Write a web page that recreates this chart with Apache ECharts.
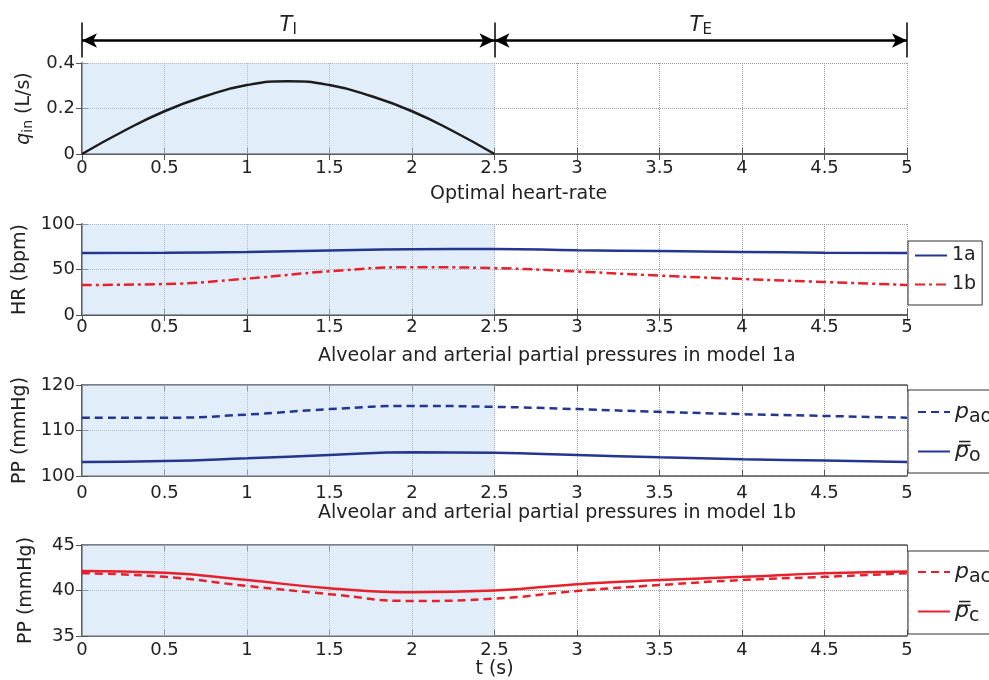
<!DOCTYPE html>
<html>
<head>
<meta charset="utf-8">
<script src="https://cdn.jsdelivr.net/npm/echarts@6/dist/echarts.min.js"></script>
<style>
  html, body { margin: 0; padding: 0; background: #fff; }
  #main { width: 989px; height: 680px; }
</style>
</head>
<body>
<div id="main"></div>
<script>
// time axis
var tIn = [0, 0.25, 0.5, 0.75, 1, 1.25, 1.5, 1.75, 2, 2.25, 2.5];
var tAll = [0, 0.5, 1, 1.5, 2, 2.5, 3, 3.5, 4, 4.5, 5];
// inflow q_in (L/s)
var qIn = [0, 0.1, 0.188, 0.255, 0.303, 0.32, 0.303, 0.255, 0.188, 0.1, 0];
// heart rate (bpm)
var hr1a = [68, 68.5, 69.3, 71, 72.2, 72.5, 71.2, 70.2, 69.3, 68.5, 68];
var hr1b = [33, 34, 40, 48, 52.5, 51.5, 47.8, 43.3, 39.6, 36.3, 33];
// partial pressures O2 model 1a (mmHg)
var pao = [112.8, 112.8, 113.5, 114.7, 115.4, 115.2, 114.7, 114.1, 113.6, 113.2, 112.8];
var po = [103.1, 103.3, 103.9, 104.6, 105.2, 105.1, 104.6, 104.1, 103.7, 103.4, 103.1];
// partial pressures CO2 model 1b (mmHg)
var pac = [41.9, 41.5, 40.5, 39.6, 38.85, 39.1, 39.95, 40.6, 41.15, 41.5, 41.9];
var pc = [42.15, 41.95, 41.15, 40.25, 39.8, 40.0, 40.7, 41.15, 41.5, 41.9, 42.1];
// y ticks [min, max, step]
var yRanges = [[0, 0.4, 0.2], [0, 100, 50], [100, 120, 10], [35, 45, 5]];

function pairs(xs, ys) { return xs.map(function (x, i) { return [x, ys[i]]; }); }

var FONT = 'DejaVu Sans';
var TXT = '#222';
var gridTops = [63, 224, 385, 545];
var labelMargins = [5, 3, 8, 5];
var yNames = ['{i|q}{s|in} (L/s)', 'HR (bpm)', 'PP (mmHg)', 'PP (mmHg)'];

var axisLine = { show: true, lineStyle: { color: '#555', width: 1.5 } };
var tick = { show: true, inside: true, length: 6, lineStyle: { color: '#555' } };
var split = { show: true, lineStyle: { type: 'dotted', color: '#999', width: 1 } };
var subRich = {
  i: { fontStyle: 'italic', fontSize: 19, fontFamily: FONT, color: TXT },
  s: { fontSize: 14, fontFamily: FONT, color: TXT, padding: [8, 0, 0, 0] }
};
var arrowRich = {
  i: { fontStyle: 'italic', fontSize: 21, fontFamily: FONT, color: TXT },
  s: { fontSize: 15, fontFamily: FONT, color: TXT, padding: [9, 0, 0, 0] }
};

var grids = [], xAxes = [], yAxes = [];
gridTops.forEach(function (top, i) {
  grids.push({ left: 82, width: 825, top: top, height: 91 });
  xAxes.push({
    gridIndex: i, type: 'value', min: 0, max: 5, interval: 0.5,
    axisLine: axisLine, axisTick: tick, splitLine: split,
    axisLabel: { color: TXT, fontSize: 18, fontFamily: FONT, margin: labelMargins[i] },
    name: i === 3 ? 't (s)' : '', nameLocation: 'middle', nameGap: 23,
    nameTextStyle: { color: TXT, fontSize: 19, fontFamily: FONT }
  });
  xAxes.push({
    gridIndex: i, type: 'value', min: 0, max: 5, interval: 0.5, position: 'top',
    axisLine: axisLine, axisTick: tick, splitLine: { show: false }, axisLabel: { show: false }
  });
  var r = yRanges[i];
  yAxes.push({
    gridIndex: i, type: 'value', min: r[0], max: r[1], interval: r[2],
    axisLine: axisLine, axisTick: tick, splitLine: split,
    axisLabel: { color: TXT, fontSize: 18, fontFamily: FONT, margin: 7 },
    name: yNames[i], nameLocation: 'middle', nameGap: 46, nameRotate: 90,
    nameTextStyle: { color: TXT, fontSize: 19, fontFamily: FONT, rich: subRich }
  });
  yAxes.push({
    gridIndex: i, type: 'value', min: r[0], max: r[1], interval: r[2], position: 'right',
    axisLine: axisLine, axisTick: tick, splitLine: { show: false }, axisLabel: { show: false }
  });
});
// strip for the T_I / T_E arrows
grids.push({ left: 82, width: 825, top: 18, height: 45 });
xAxes.push({ gridIndex: 4, type: 'value', min: 0, max: 5, show: false });
yAxes.push({ gridIndex: 4, type: 'value', min: 0, max: 1, show: false });

var shade = {
  silent: true,
  itemStyle: { color: 'rgba(196,220,242,0.5)' },
  data: [[{ xAxis: 0 }, { xAxis: 2.5 }]]
};

function line(name, gi, data, color, type, withShade) {
  var s = {
    name: name, type: 'line', xAxisIndex: 2 * gi, yAxisIndex: 2 * gi,
    data: data, smooth: true, symbol: 'none',
    lineStyle: { color: color, width: 2.5, type: type },
    itemStyle: { color: color }
  };
  if (withShade) s.markArea = shade;
  return s;
}

var NAVY = '#24368f';
var RED = '#e6212b';
var legendNames = {
  '1a': '1a', '1b': '1b',
  pao: '{i|p}{s|ao}', po: '{i|p\u033F}{s|o}',
  pac: '{i|p}{s|ac}', pc: '{i|p\u033F}{s|c}'
};
var legendRich = {
  i: { fontStyle: 'italic', fontSize: 22, fontFamily: FONT, color: TXT },
  s: { fontSize: 19, fontFamily: FONT, color: TXT, padding: [10, 0, 0, 0] }
};
function legend(names, top, gap, pad) {
  return {
    data: names, orient: 'vertical', left: 908, top: top,
    borderColor: '#333', borderWidth: 1, padding: pad,
    itemWidth: 32, itemHeight: 14, itemGap: gap,
    itemStyle: { opacity: 0 },
    textStyle: { color: TXT, fontSize: 19, fontFamily: FONT, rich: legendRich },
    formatter: function (n) { return legendNames[n]; }
  };
}

var option = {
  animation: false,
  backgroundColor: '#fff',
  title: [
    { text: 'Optimal heart-rate', left: 430, top: 185 },
    { text: 'Alveolar and arterial partial pressures in model 1a', left: 318, top: 347 },
    { text: 'Alveolar and arterial partial pressures in model 1b', left: 318, top: 504 }
  ].map(function (t) {
    t.padding = 0;
    t.textStyle = { color: TXT, fontSize: 19, fontWeight: 'normal', fontFamily: FONT };
    return t;
  }),
  legend: [
    legend(['1a', '1b'], 241, 10, [5, 6, 11, 6]),
    legend(['pao', 'po'], 390, 14, [11, 30, 7, 9]),
    legend(['pac', 'pc'], 551, 14, [10, 30, 8, 9])
  ],
  grid: grids,
  xAxis: xAxes,
  yAxis: yAxes,
  series: [
    line('qin', 0, pairs(tIn, qIn), '#1c1c1c', 'solid', true),
    line('1a', 1, pairs(tAll, hr1a), NAVY, 'solid', true),
    line('1b', 1, pairs(tAll, hr1b), RED, [10, 4, 3, 4], false),
    line('pao', 2, pairs(tAll, pao), NAVY, [8, 5], true),
    line('po', 2, pairs(tAll, po), NAVY, 'solid', false),
    line('pac', 3, pairs(tAll, pac), RED, [8, 5], true),
    line('pc', 3, pairs(tAll, pc), RED, 'solid', false),
    {
      type: 'line', xAxisIndex: 8, yAxisIndex: 8, data: [], silent: true,
      markLine: {
        silent: true,
        lineStyle: { color: '#000', width: 2.5, type: 'solid' },
        symbol: ['arrow', 'arrow'], symbolSize: [11, 15],
        label: {
          show: true, position: 'middle', distance: 3,
          color: TXT, fontSize: 19, fontFamily: FONT, rich: arrowRich
        },
        data: [
          [{ coord: [0, 0.5], label: { formatter: '{i|T}{s|I}' } }, { coord: [2.5, 0.5] }],
          [{ coord: [2.5, 0.5], label: { formatter: '{i|T}{s|E}' } }, { coord: [5, 0.5] }],
          [{ coord: [0, 0.12], symbol: 'none', label: { show: false }, lineStyle: { width: 1.5 } }, { coord: [0, 0.9], symbol: 'none' }],
          [{ coord: [2.5, 0.12], symbol: 'none', label: { show: false }, lineStyle: { width: 1.5 } }, { coord: [2.5, 0.9], symbol: 'none' }],
          [{ coord: [5, 0.12], symbol: 'none', label: { show: false }, lineStyle: { width: 1.5 } }, { coord: [5, 0.9], symbol: 'none' }]
        ]
      }
    }
  ]
};

var myChart = echarts.init(document.getElementById('main'));
myChart.setOption(option);
</script>
</body>
</html>
